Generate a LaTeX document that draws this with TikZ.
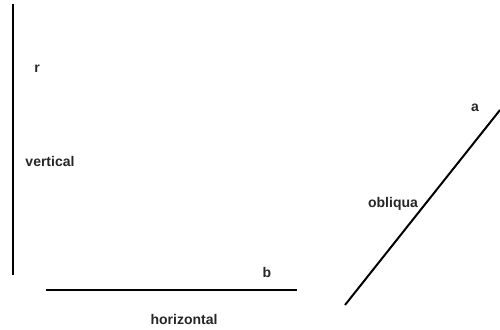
\documentclass[tikz,border=0pt]{standalone}
\usepackage{fontspec}
\setmainfont{Liberation Sans}
\begin{document}
\begin{tikzpicture}[x=1pt,y=-1pt,
  seg/.style={line width=2pt, black},
  lbl/.style={font=\bfseries\fontsize{14}{16}\selectfont, text=black!85, inner sep=0pt}]
\useasboundingbox (0,0) rectangle (500,329);
\coordinate (v1) at (13,4);
\coordinate (v2) at (13,275);
\coordinate (h1) at (46,290);
\coordinate (h2) at (297,290);
\coordinate (o1) at (345,305);
\coordinate (o2) at (500,110);
\draw[seg, line width=2.6pt] (v1) -- (v2);
\draw[seg] (h1) -- (h2);
\draw[seg] (o1) -- (o2);
\node[lbl] (r) at (37,69) {r};
\node[lbl] (vert) at (50,161) {vertical};
\node[lbl] (b) at (267,272) {b};
\node[lbl] (hor) at (184,319) {horizontal};
\node[lbl] (a) at (475,108) {a};
\node[lbl] (obl) at (393,204) {obliqua};
\end{tikzpicture}
\end{document}
